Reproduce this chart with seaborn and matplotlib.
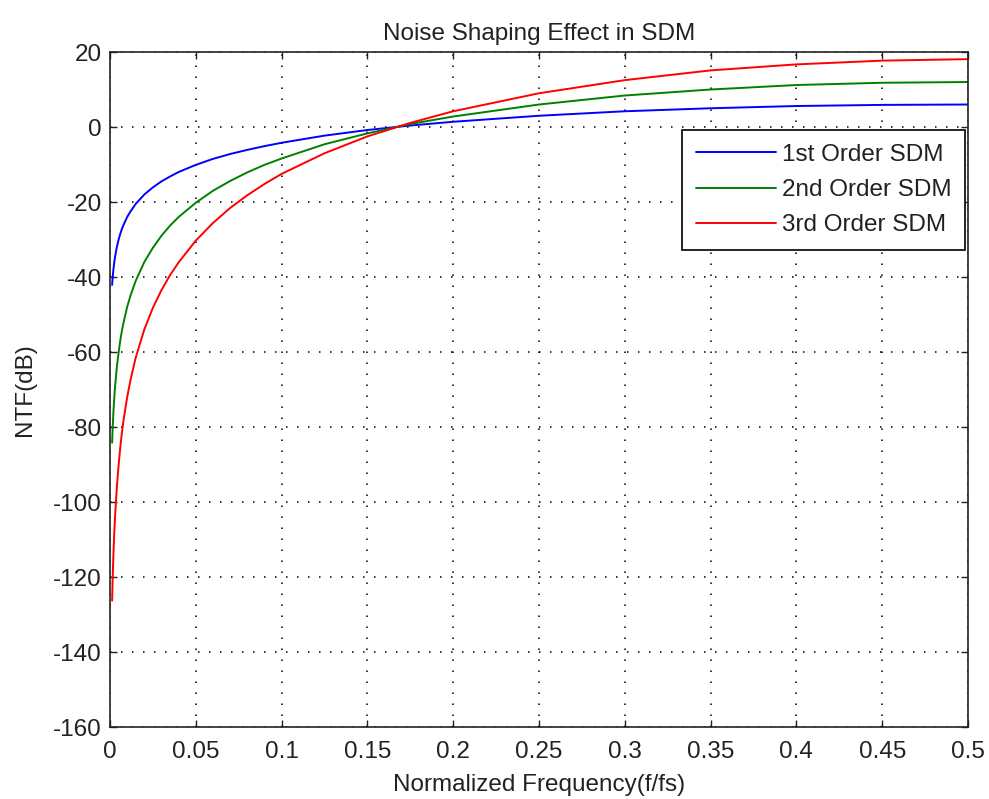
import numpy as np
import pandas as pd
import matplotlib
matplotlib.use('Agg')
import matplotlib.pyplot as plt
import seaborn as sns

# values
freq = [0.00125, 0.0015, 0.002, 0.0025, 0.003, 0.004, 0.005, 0.006, 0.007, 0.008,
        0.01, 0.012, 0.015, 0.02, 0.025, 0.03, 0.035, 0.04, 0.05, 0.06, 0.07, 0.08,
        0.09, 0.1, 0.125, 0.15, 0.175, 0.2, 0.25, 0.3, 0.35, 0.4, 0.45, 0.5]
ntf_1st = [-42.1, -40.5, -38.0, -36.1, -34.5, -32.0, -30.1, -28.5, -27.1, -26.0,
           -24.0, -22.5, -20.5, -18.0, -16.1, -14.5, -13.2, -12.0, -10.1, -8.5, -7.2, -6.1,
           -5.1, -4.2, -2.3, -0.8, 0.4, 1.4, 3.0, 4.2, 5.0, 5.6, 5.9, 6.0]
ntf_2nd = [-84.2, -81.0, -76.0, -72.2, -69.0, -64.0, -60.2, -56.9, -54.2, -52.0,
           -48.0, -44.9, -41.0, -36.0, -32.2, -29.0, -26.3, -24.0, -20.2, -17.0, -14.4, -12.1,
           -10.1, -8.4, -4.6, -1.7, 0.8, 2.8, 6.0, 8.4, 10.0, 11.2, 11.8, 12.0]
ntf_3rd = [-126.3, -121.5, -114.0, -108.2, -103.5, -96.0, -90.3, -85.4, -81.3, -77.9,
           -72.1, -67.4, -61.5, -54.0, -48.2, -43.5, -39.5, -36.1, -30.3, -25.6, -21.6, -18.2,
           -15.2, -12.5, -7.0, -2.5, 1.1, 4.2, 9.0, 12.5, 15.1, 16.7, 17.7, 18.1]

series_names = ['1st Order SDM', '2nd Order SDM', '3rd Order SDM']
series_colors = ['#0000ff', '#008000', '#ff0000']

x_ticks = [0, 0.05, 0.1, 0.15, 0.2, 0.25, 0.3, 0.35, 0.4, 0.45, 0.5]
x_tick_labels = ['0', '0.05', '0.1', '0.15', '0.2', '0.25', '0.3', '0.35', '0.4', '0.45', '0.5']
y_ticks = [-160, -140, -120, -100, -80, -60, -40, -20, 0, 20]

df = pd.concat([
    pd.DataFrame({'f': freq, 'ntf': vals, 'order': name})
    for name, vals in zip(series_names, [ntf_1st, ntf_2nd, ntf_3rd])
])

sns.set_style('ticks')
plt.rcParams['font.family'] = ['Liberation Sans', 'DejaVu Sans']
plt.rcParams['axes.unicode_minus'] = False
fs = 17.5
ink = '#222222'

fig = plt.figure(figsize=(9.89, 7.99), dpi=100)
ax = fig.add_axes([0.1112, 0.0901, 0.8676, 0.8448])

sns.lineplot(data=df, x='f', y='ntf', hue='order', palette=series_colors,
             hue_order=series_names, linewidth=1.4, ax=ax, sort=False)

ax.set_xlim(0, 0.5)
ax.set_ylim(-160, 20)
ax.set_xticks(x_ticks)
ax.set_xticklabels(x_tick_labels)
ax.set_yticks(y_ticks)
ax.grid(True, color='black', linestyle=(0, (1, 6.2)), linewidth=1.1)
ax.tick_params(direction='in', top=True, right=True, length=5, width=1.0,
               labelsize=fs, colors=ink)
ax.tick_params(axis='x', pad=10)
ax.tick_params(axis='y', pad=6)
for sp in ax.spines.values():
    sp.set_linewidth(1.2)
    sp.set_color(ink)

ax.set_xlabel('Normalized Frequency(f/fs)', fontsize=fs, labelpad=8, color=ink)
ax.set_ylabel('NTF(dB)', fontsize=fs, labelpad=12, color=ink)
ax.set_title('Noise Shaping Effect in SDM', fontsize=fs, pad=9, color=ink)

leg = ax.legend(loc='upper right', bbox_to_anchor=(0.9965, 0.884), fontsize=fs,
                frameon=True, fancybox=False, handlelength=3.3, borderpad=0.55,
                labelspacing=0.55, handletextpad=0.25, borderaxespad=0)
leg.get_frame().set_edgecolor('black')
leg.get_frame().set_linewidth(1.2)
leg.get_frame().set_alpha(1)
for t in leg.get_texts():
    t.set_color(ink)

fig.savefig('out.png', dpi=100, facecolor='white')
